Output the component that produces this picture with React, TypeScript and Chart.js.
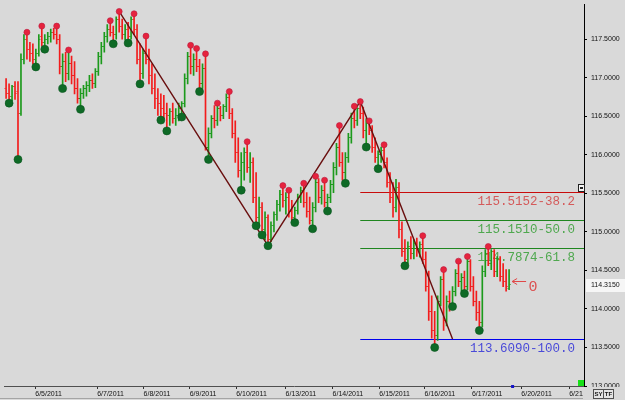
import { useEffect, useRef } from "react";
import { Chart, registerables } from "chart.js";
Chart.register(...registerables);

// ---- data (hourly bars, index = bar number) ----
const opens = [
  116.86,116.79,116.76,116.88,116.82,116.54,117.24,117.50,117.37,117.31,
  117.24,117.31,117.54,117.46,117.50,117.54,117.59,117.56,117.50,117.15,
  117.21,117.05,117.18,117.03,116.86,116.73,116.79,116.86,116.90,116.97,
  116.92,117.08,117.28,117.41,117.54,117.63,117.59,117.56,117.76,117.67,
  117.56,117.63,117.54,117.76,117.63,117.24,117.05,117.31,117.24,117.03,
  116.86,116.73,116.67,116.60,116.54,116.51,116.56,116.47,116.51,116.60,
  116.67,116.99,117.28,117.15,117.24,117.15,116.92,117.12,116.09,116.28,
  116.47,116.44,116.60,116.51,116.63,116.74,116.54,116.28,116.03,115.79,
  115.90,116.03,115.83,115.90,115.45,115.19,115.32,115.03,115.19,114.90,
  115.08,115.22,115.35,115.49,115.41,115.45,115.26,115.19,115.28,115.44,
  115.54,115.38,115.26,115.15,115.32,115.64,115.45,115.54,115.38,115.44,
  115.62,115.83,116.09,115.90,115.77,115.96,116.22,116.47,116.44,116.60,
  116.54,116.31,116.41,116.31,116.09,115.96,116.01,116.05,115.90,115.64,
  115.45,115.32,115.58,115.03,114.74,114.64,114.81,114.72,114.85,114.77,
  114.83,114.64,114.29,113.97,113.72,113.65,114.10,114.38,113.85,114.10,
  114.04,114.23,114.46,114.36,114.41,114.29,114.62,114.29,114.10,113.95,
  113.82,114.49,114.72,114.59,114.74,114.49,114.64,114.42,114.36,114.27,
];
const highs = [
  116.99,116.92,116.90,116.95,116.95,117.31,117.56,117.59,117.46,117.44,
  117.37,117.56,117.67,117.56,117.59,117.63,117.64,117.67,117.56,117.31,
  117.33,117.36,117.28,117.21,116.99,116.86,116.90,116.95,117.03,117.05,
  117.12,117.33,117.46,117.59,117.69,117.74,117.67,117.79,117.86,117.76,
  117.69,117.72,117.79,117.83,117.69,117.44,117.37,117.54,117.37,117.18,
  117.05,116.86,116.79,116.77,116.67,116.60,116.67,116.60,116.67,116.69,
  117.05,117.33,117.42,117.31,117.38,117.24,117.18,117.31,116.35,116.51,
  116.64,116.67,116.63,116.65,116.79,116.82,116.60,116.44,116.22,116.03,
  116.09,116.17,116.03,115.96,115.77,115.45,115.38,115.26,115.22,115.13,
  115.26,115.41,115.54,115.60,115.51,115.54,115.41,115.32,115.49,115.58,
  115.63,115.51,115.45,115.38,115.72,115.69,115.60,115.67,115.49,115.67,
  115.90,116.15,116.38,116.03,116.03,116.28,116.54,116.63,116.61,116.69,
  116.62,116.47,116.44,116.38,116.22,116.05,116.10,116.13,115.96,115.77,
  115.64,115.68,115.64,115.13,114.90,114.87,114.94,114.90,114.92,114.87,
  114.95,114.74,114.49,114.17,113.97,114.17,114.42,114.51,114.17,114.23,
  114.29,114.51,114.62,114.46,114.49,114.68,114.64,114.42,114.23,114.10,
  114.56,114.77,114.81,114.77,114.77,114.68,114.68,114.59,114.51,114.51,
];
const lows = [
  116.73,116.67,116.70,116.72,115.94,116.51,117.18,117.24,117.21,117.18,
  117.14,117.28,117.41,117.37,117.44,117.46,117.50,117.44,117.05,116.86,
  116.95,116.97,116.92,116.79,116.67,116.59,116.73,116.76,116.82,116.86,
  116.87,117.03,117.18,117.33,117.46,117.54,117.44,117.50,117.59,117.50,
  117.49,117.45,117.50,117.56,117.18,116.92,116.99,117.18,116.92,116.79,
  116.60,116.51,116.45,116.47,116.31,116.38,116.41,116.38,116.44,116.49,
  116.62,116.92,117.05,117.03,117.08,116.82,116.86,116.06,115.94,116.22,
  116.35,116.38,116.44,116.47,116.56,116.47,116.22,115.90,115.71,115.54,
  115.67,115.77,115.64,115.38,115.08,115.06,114.96,114.90,114.82,114.87,
  115.00,115.15,115.27,115.32,115.23,115.19,115.15,115.12,115.23,115.38,
  115.32,115.19,115.10,115.04,115.26,115.38,115.36,115.32,115.27,115.38,
  115.51,115.74,115.85,115.67,115.63,115.90,116.15,116.35,116.38,116.47,
  116.22,116.10,116.26,116.03,115.90,115.82,115.90,115.83,115.58,115.38,
  115.19,115.26,114.92,114.68,114.56,114.59,114.65,114.65,114.68,114.67,
  114.59,114.23,113.85,113.62,113.50,113.59,114.04,113.72,113.78,113.97,
  114.03,114.17,114.29,114.23,114.20,114.25,114.23,114.04,113.85,113.72,
  113.77,114.42,114.56,114.51,114.42,114.42,114.36,114.29,114.23,114.25,
];
const closes = [
  116.79,116.76,116.88,116.79,116.54,117.24,117.50,117.37,117.31,117.24,
  117.31,117.50,117.46,117.50,117.54,117.59,117.56,117.50,117.15,117.21,
  117.05,117.18,117.03,116.86,116.73,116.79,116.86,116.90,116.97,116.92,
  117.08,117.28,117.41,117.54,117.63,117.59,117.56,117.76,117.67,117.56,
  117.63,117.54,117.76,117.63,117.24,117.05,117.31,117.24,117.03,116.86,
  116.73,116.67,116.60,116.54,116.51,116.56,116.47,116.51,116.60,116.67,
  116.99,117.28,117.15,117.24,117.15,116.92,117.12,116.09,116.28,116.47,
  116.44,116.60,116.51,116.63,116.74,116.54,116.28,116.03,115.79,115.90,
  116.03,115.83,115.90,115.45,115.19,115.32,115.03,115.19,114.90,115.08,
  115.22,115.35,115.49,115.41,115.45,115.26,115.19,115.28,115.44,115.54,
  115.38,115.26,115.15,115.32,115.64,115.45,115.54,115.38,115.44,115.62,
  115.83,116.09,115.90,115.77,115.96,116.22,116.47,116.44,116.60,116.54,
  116.31,116.41,116.31,116.09,115.96,116.01,116.05,115.90,115.64,115.45,
  115.32,115.58,115.03,114.74,114.64,114.81,114.72,114.85,114.77,114.83,
  114.64,114.29,113.97,113.72,113.65,114.10,114.38,113.85,114.10,114.04,
  114.23,114.46,114.36,114.41,114.29,114.62,114.29,114.10,113.95,113.82,
  114.49,114.72,114.59,114.74,114.49,114.64,114.42,114.36,114.29,114.32,
];
const swingHighIdx = [7,12,17,21,35,38,43,47,62,64,67,71,75,81,93,95,100,104,107,112,117,119,122,127,140,147,152,155,162];
const swingLowIdx = [1,4,10,13,19,25,36,41,45,52,54,59,65,68,79,84,86,88,97,103,108,114,121,125,134,144,150,154,159];
const zigIdx = [38, 88, 119, 150];
const zigPrice = [117.86, 114.82, 116.693, 113.609];
const fibStartIdx = 119;
const fibLevels = [115.5152, 115.151, 114.7874, 113.609];
const fibLabels = ["115.5152-38.2", "115.1510-50.0", "114.7874-61.8", "113.6090-100.0"];
const dayTickPos = [9.8, 30.6, 46.2, 61.7, 77.3, 93.9, 109.7, 125.4, 140.6, 156.5, 173.1, 189.2];
const dayLabels = ["6/5/2011","6/7/2011","6/8/2011","6/9/2011","6/10/2011","6/13/2011","6/14/2011","6/15/2011","6/16/2011","6/17/2011","6/20/2011","6/21/2011"];
const yTicks = [113, 113.5, 114, 114.5, 115, 115.5, 116, 116.5, 117, 117.5];
const lastPrice = 114.315;
const lastMarker = "0";

// ---- styles ----
const BG = "#d9d9d9";
const UP = "#1c9a1c";
const DOWN = "#f21c1c";
const fibLineColors = ["#c80c0c", "#1f861f", "#1f861f", "#0000ee"];
const fibTextColors = ["#d45a5a", "#4fa84f", "#4fa84f", "#4a4ad8"];
const AXIS_FONT = "'Liberation Sans', Arial, sans-serif";
const LABEL_FONT = "'Liberation Mono', 'DejaVu Sans Mono', monospace";

export default function App() {
  const ref = useRef<HTMLCanvasElement>(null);
  useEffect(() => {
    document.body.style.margin = "0";
    const canvas = ref.current!;
    const idx = highs.map((_, i) => i);
    const barColors = idx.map((i) => (closes[i] >= opens[i] ? UP : DOWN));

    const bgPlugin = {
      id: "bg",
      beforeDraw(c: any) {
        const ctx = c.ctx;
        ctx.save();
        ctx.fillStyle = BG;
        ctx.fillRect(0, 0, c.width, c.height);
        ctx.restore();
      },
    };

    const fibPlugin = {
      id: "fib",
      beforeDatasetsDraw(c: any) {
        const { ctx, chartArea, scales } = c;
        const x0 = scales.x.getPixelForValue(fibStartIdx);
        ctx.save();
        fibLevels.forEach((lv, k) => {
          const py = Math.round(scales.y.getPixelForValue(lv)) + 0.5;
          ctx.strokeStyle = fibLineColors[k];
          ctx.lineWidth = 1.2;
          ctx.beginPath();
          ctx.moveTo(x0, py);
          ctx.lineTo(chartArea.right, py);
          ctx.stroke();
          ctx.font = "12.5px " + LABEL_FONT;
          ctx.textAlign = "right";
          ctx.textBaseline = "alphabetic";
          ctx.fillStyle = fibTextColors[k];
          ctx.fillText(fibLabels[k], chartArea.right - 9, py + 12);
        });
        ctx.restore();
      },
    };

    const tickPlugin = {
      id: "ohlcTicks",
      afterDatasetDraw(c: any, args: any) {
        if (args.index !== 0) return;
        const { ctx, scales } = c;
        ctx.save();
        idx.forEach((i) => {
          const px = scales.x.getPixelForValue(i);
          const yo = Math.floor(scales.y.getPixelForValue(opens[i]));
          const yc = Math.floor(scales.y.getPixelForValue(closes[i]));
          ctx.fillStyle = barColors[i];
          ctx.fillRect(px - 1.5, yo, 1, 1);
          ctx.fillRect(px + 0.5, yc, 1, 1);
        });
        ctx.restore();
      },
    };

    const overlayPlugin = {
      id: "overlay",
      afterDraw(c: any) {
        const { ctx, chartArea, scales } = c;
        const xl = scales.x.getPixelForValue(opens.length - 1);
        const yl = scales.y.getPixelForValue(lastPrice);
        ctx.save();
        // arrow + marker
        ctx.strokeStyle = "#e04848";
        ctx.lineWidth = 1;
        const ay = Math.round(yl - 3.5) + 0.5;
        ctx.beginPath();
        ctx.moveTo(xl + 3, ay);
        ctx.lineTo(xl + 17, ay);
        ctx.moveTo(xl + 3, ay);
        ctx.lineTo(xl + 8, ay - 3);
        ctx.moveTo(xl + 3, ay);
        ctx.lineTo(xl + 8, ay + 3);
        ctx.stroke();
        ctx.font = "15px " + LABEL_FONT;
        ctx.textAlign = "left";
        ctx.textBaseline = "alphabetic";
        ctx.fillStyle = "#dc5050";
        ctx.fillText(lastMarker, xl + 19.5, yl + 6.5);
        // price box
        ctx.fillStyle = "#f6f6f6";
        ctx.fillRect(chartArea.right + 2, Math.round(yl) - 6, 39, 13);
        ctx.fillStyle = "#111";
        ctx.font = "7px " + AXIS_FONT;
        ctx.textBaseline = "middle";
        ctx.fillText(lastPrice.toFixed(4), chartArea.right + 7, yl + 0.5);
        // clip overflow of last date label and draw SY/TF buttons
        ctx.fillStyle = BG;
        ctx.fillRect(chartArea.right - 1, chartArea.bottom + 1, 45, 20);
        ctx.fillStyle = "#e4e4e4";
        ctx.strokeStyle = "#505050";
        ctx.fillRect(593.5, 389.5, 10, 9);
        ctx.strokeRect(593.5, 389.5, 10, 9);
        ctx.fillRect(603.5, 389.5, 10, 9);
        ctx.strokeRect(603.5, 389.5, 10, 9);
        ctx.fillStyle = "#111";
        ctx.font = "bold 6px " + AXIS_FONT;
        ctx.textAlign = "center";
        ctx.fillText("SY", 598.5, 394.5);
        ctx.fillText("TF", 608.5, 394.5);
        // small icons
        ctx.fillStyle = "#18e018";
        ctx.fillRect(578, 380, 6, 6);
        ctx.fillStyle = "#f4f4f4";
        ctx.fillRect(578, 184, 6, 7);
        ctx.strokeStyle = "#222";
        ctx.strokeRect(578.5, 184.5, 6, 7);
        ctx.fillStyle = "#222";
        ctx.fillRect(580, 187, 3, 2);
        ctx.fillStyle = "#1414c8";
        ctx.fillRect(xl + 2, chartArea.bottom - 1, 3, 3);
        // bottom frame line
        ctx.fillStyle = "#a4a4a4";
        ctx.fillRect(0, 398, chartArea.right - 1, 1);
        ctx.restore();
      },
    };

    const chart = new Chart(canvas, {
      type: "bar",
      data: {
        datasets: [
          {
            type: "bar",
            data: idx.map((i) => ({ x: i, y: [lows[i], highs[i]] })) as any,
            backgroundColor: barColors,
            barThickness: 1,
            borderWidth: 0,
            grouped: false,
            order: 4,
          } as any,
          {
            type: "line",
            data: zigIdx.map((v, k) => ({ x: v, y: zigPrice[k] })),
            borderColor: "#6a1010",
            borderWidth: 1.4,
            pointRadius: 0,
            tension: 0,
            order: 3,
          } as any,
          {
            type: "scatter",
            data: swingHighIdx.map((i) => ({ x: i, y: highs[i] })),
            pointRadius: 3,
            backgroundColor: "#e6233d",
            borderColor: "#b81a40",
            borderWidth: 0.6,
            order: 2,
          } as any,
          {
            type: "scatter",
            data: swingLowIdx.map((i) => ({ x: i, y: lows[i] })),
            pointRadius: 4,
            backgroundColor: "#0e6a26",
            borderColor: "#0a561e",
            borderWidth: 0.6,
            order: 1,
          } as any,
        ],
      },
      options: {
        responsive: false,
        animation: false,
        devicePixelRatio: 1,
        events: [],
        layout: { padding: 0 },
        plugins: { legend: { display: false }, tooltip: { enabled: false } },
        scales: {
          x: {
            type: "linear",
            position: "bottom",
            min: -0.5,
            max: 194.1667,
            offset: false,
            grid: { drawOnChartArea: false, drawTicks: true, tickLength: 3, color: "#303030", offset: false },
            border: { display: true, color: "#505050", width: 1 },
            ticks: {
              autoSkip: false,
              maxRotation: 0,
              minRotation: 0,
              align: "start",
              padding: 1,
              color: "#111",
              font: { family: AXIS_FONT, size: 7 },
              callback: (_v: any, i: number) => dayLabels[i],
            },
            afterBuildTicks: (s: any) => {
              s.ticks = dayTickPos.map((v) => ({ value: v }));
            },
            afterFit: (s: any) => {
              s.height = 14;
              s.paddingLeft = 0;
              s.paddingRight = 0;
            },
          } as any,
          y: {
            type: "linear",
            position: "right",
            min: 113,
            max: 117.9487,
            grid: { drawOnChartArea: false, drawTicks: true, tickLength: 3, color: "#000" },
            border: { display: true, color: "#000", width: 1 },
            ticks: {
              padding: 4,
              color: "#111",
              font: { family: AXIS_FONT, size: 7 },
              callback: (v: any) => Number(v).toFixed(4),
            },
            afterBuildTicks: (s: any) => {
              s.ticks = yTicks.map((v) => ({ value: v }));
            },
            afterFit: (s: any) => {
              s.width = 41;
              s.paddingTop = 0;
              s.paddingBottom = 0;
            },
          } as any,
        },
      },
      plugins: [bgPlugin, fibPlugin, tickPlugin, overlayPlugin],
    });
    return () => chart.destroy();
  }, []);
  return <canvas ref={ref} width={625} height={400} style={{ display: "block" }} />;
}
